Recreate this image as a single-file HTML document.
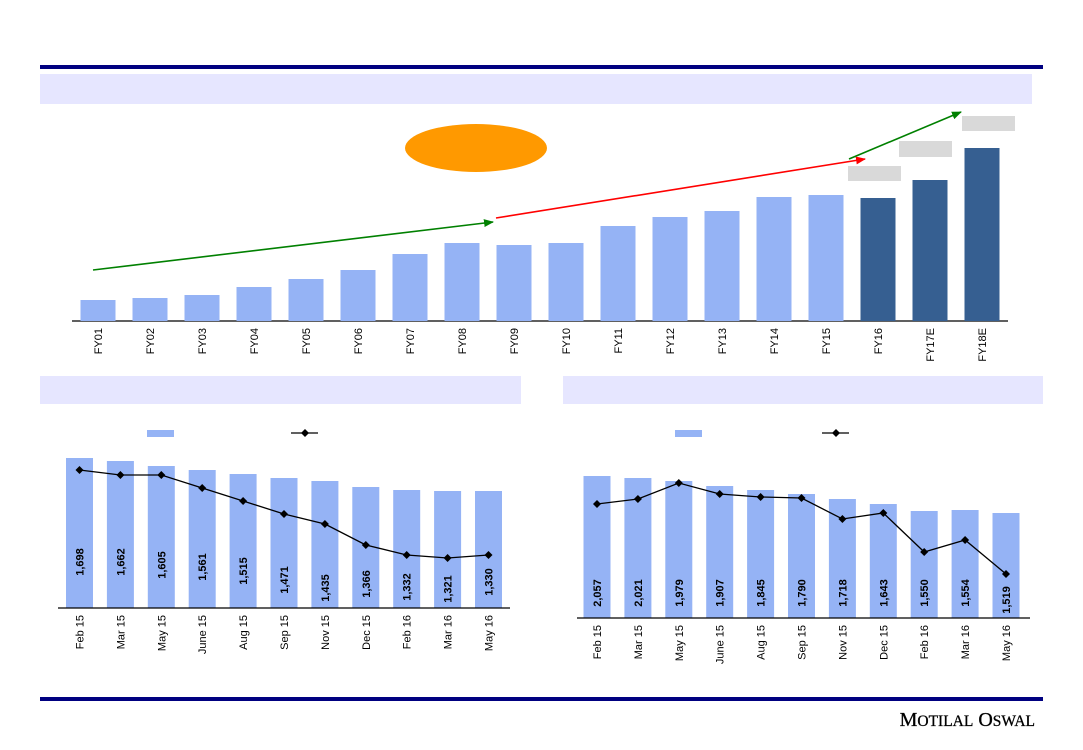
<!DOCTYPE html>
<html><head><meta charset="utf-8"><style>
html,body{margin:0;padding:0;background:#fff;}
svg{display:block;font-family:"Liberation Sans",sans-serif;}
</style></head><body>
<svg id="s" width="1083" height="750" viewBox="0 0 1083 750" xmlns="http://www.w3.org/2000/svg">
<defs>
<marker id="ag" markerWidth="10" markerHeight="8" refX="9" refY="4" orient="auto" markerUnits="userSpaceOnUse"><path d="M0,0 L10,4 L0,8 Z" fill="#008000"/></marker>
<marker id="ar" markerWidth="10" markerHeight="8" refX="9" refY="4" orient="auto" markerUnits="userSpaceOnUse"><path d="M0,0 L10,4 L0,8 Z" fill="#ff0000"/></marker>
</defs>
<rect x="40" y="65" width="1003" height="4" fill="#000080"/>
<rect x="40" y="74" width="992" height="30" fill="#e6e6ff"/>
<rect x="40" y="376" width="481" height="28" fill="#e6e6ff"/>
<rect x="563" y="376" width="480" height="28" fill="#e6e6ff"/>
<rect x="40" y="697" width="1003" height="4" fill="#000080"/>
<text x="1035" y="726" text-anchor="end" font-family="Liberation Serif,serif" font-size="20" fill="#000" stroke="#000" stroke-width="0.3">M<tspan font-size="15.5">OTILAL</tspan> O<tspan font-size="15.5">SWAL</tspan></text>
<ellipse cx="476" cy="148" rx="71" ry="24" fill="#ff9900"/>
<rect x="848" y="166" width="53" height="15" fill="#d9d9d9"/>
<rect x="899" y="141" width="53" height="16" fill="#d9d9d9"/>
<rect x="962" y="116" width="53" height="15" fill="#d9d9d9"/>
<line x1="72" y1="321" x2="1008" y2="321" stroke="#000" stroke-width="1.3"/>
<g id="g"></g>
<line x1="93" y1="270" x2="493" y2="222" stroke="#008000" stroke-width="1.6" marker-end="url(#ag)"/>
<line x1="496" y1="218" x2="865" y2="159" stroke="#ff0000" stroke-width="1.6" marker-end="url(#ar)"/>
<line x1="849" y1="159" x2="961" y2="112" stroke="#008000" stroke-width="1.6" marker-end="url(#ag)"/>
<rect x="147" y="430" width="27" height="7" fill="#95b3f5"/>
<line x1="291" y1="433" x2="318" y2="433" stroke="#000" stroke-width="1.3"/>
<path d="M305,429 L309,433 L305,437 L301,433Z" fill="#000"/>
<rect x="675" y="430" width="27" height="7" fill="#95b3f5"/>
<line x1="822" y1="433" x2="849" y2="433" stroke="#000" stroke-width="1.3"/>
<path d="M836,429 L840,433 L836,437 L832,433Z" fill="#000"/>
<line x1="58" y1="608" x2="510" y2="608" stroke="#000" stroke-width="1.3"/>
<line x1="577" y1="618" x2="1030" y2="618" stroke="#000" stroke-width="1.3"/>
</svg>
<script>
var NS="http://www.w3.org/2000/svg",g=document.getElementById("g");
function el(t,a,txt){var e=document.createElementNS(NS,t);for(var k in a)e.setAttribute(k,a[k]);if(txt!=null)e.textContent=txt;g.appendChild(e);return e;}
var fy=["FY01","FY02","FY03","FY04","FY05","FY06","FY07","FY08","FY09","FY10","FY11","FY12","FY13","FY14","FY15","FY16","FY17E","FY18E"];
var ft=[300,298,295,287,279,270,254,243,245,243,226,217,211,197,195,198,180,148];
fy.forEach(function(n,i){var c=98+i*52;
el("rect",{x:c-17.5,y:ft[i],width:35,height:321-ft[i],fill:i>=15?"#365f91":"#95b3f5"});
el("text",{x:0,y:0,transform:"translate("+(c+4)+",328) rotate(-90)","text-anchor":"end","font-size":"11",fill:"#000"},n);});
var mo=["Feb 15","Mar 15","May 15","June 15","Aug 15","Sep 15","Nov 15","Dec 15","Feb 16","Mar 16","May 16"];
function chart(x0,base,tops,line,vals,lc){var pts=[];
mo.forEach(function(m,i){var c=x0+i*40.9;
el("rect",{x:c-13.5,y:tops[i],width:27,height:base-tops[i],fill:"#95b3f5"});
el("text",{x:0,y:0,transform:"translate("+(c+4)+","+(base+7)+") rotate(-90)","text-anchor":"end","font-size":"11",fill:"#000"},m);
el("text",{x:0,y:0,transform:"translate("+(c+4)+","+lc[i]+") rotate(-90)","text-anchor":"middle","font-size":"11","font-weight":"bold",fill:"#000"},vals[i]);
pts.push(c+","+line[i]);});
el("polyline",{points:pts.join(" "),fill:"none",stroke:"#000","stroke-width":"1.3"});
mo.forEach(function(m,i){var c=x0+i*40.9,y=line[i];el("path",{d:"M"+c+","+(y-4)+" L"+(c+4)+","+y+" L"+c+","+(y+4)+" L"+(c-4)+","+y+"Z",fill:"#000"});});}
chart(79.5,608,[458,461,466,470,474,478,481,487,490,491,491],[470,475,475,488,501,514,524,545,555,558,555],["1,698","1,662","1,605","1,561","1,515","1,471","1,435","1,366","1,332","1,321","1,330"],[562,562,565,567,571,580,588,584,587,589,582]);
chart(597,618,[476,478,481,486,490,494,499,504,511,510,513],[504,499,483,494,497,498,519,513,552,540,574],["2,057","2,021","1,979","1,907","1,845","1,790","1,718","1,643","1,550","1,554","1,519"],[593,593,593,593,593,593,593,593,593,593,600]);
</script>
</body></html>
